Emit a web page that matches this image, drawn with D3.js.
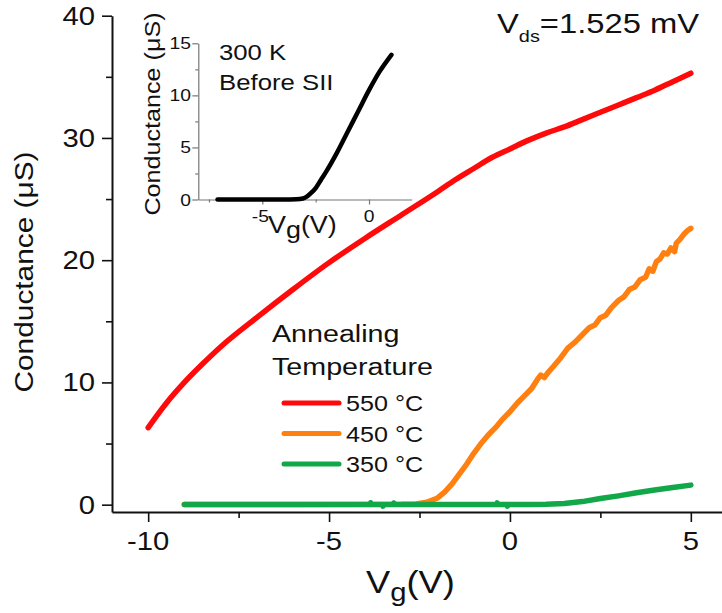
<!DOCTYPE html>
<html>
<head>
<meta charset="utf-8">
<script src="https://cdn.jsdelivr.net/npm/d3@7"></script>
<style>
  html, body { margin: 0; padding: 0; background: #fff; }
  svg { display: block; }
  text { font-family: "Liberation Sans", Arial, Helvetica, sans-serif; fill: #111; }
</style>
</head>
<body>
<svg id="chart" width="722" height="613"></svg>
<script>
// Gate-voltage sweeps (Vg in V, conductance in µS)
const vg550 = [-10, -9.5, -9, -8.5, -8, -7, -6, -5, -4, -3, -2, -1.5, -1, -0.5, 0, 0.5, 1, 1.5, 2, 2.5, 3, 3.5, 4, 4.5, 5];
const g550  = [6.3, 8.3, 10.0, 11.5, 12.9, 15.3, 17.6, 19.8, 21.8, 23.7, 25.6, 26.6, 27.5, 28.4, 29.1, 29.8, 30.4, 30.9, 31.5, 32.1, 32.7, 33.3, 33.9, 34.6, 35.3];

const vg450 = [-9, -6, -3, -2.6, -2.3, -2.0, -1.8, -1.6, -1.4, -1.2, -1.0, -0.8, -0.6, -0.4, -0.2, 0.0, 0.2, 0.4, 0.6, 0.75, 0.85, 0.95, 1.05, 1.2, 1.4, 1.6, 1.8, 2.0, 2.2, 2.35, 2.5, 2.65, 2.8, 3.0, 3.15, 3.3, 3.45, 3.6, 3.75, 3.85, 3.95, 4.05, 4.15, 4.25, 4.35, 4.45, 4.55, 4.6, 4.7, 4.8, 4.9, 5.0];
const g450  = [0.02, 0.02, 0.03, 0.06, 0.2, 0.55, 1.05, 1.7, 2.5, 3.3, 4.2, 5.0, 5.7, 6.3, 7.0, 7.6, 8.3, 8.9, 9.5, 10.2, 10.6, 10.4, 10.8, 11.3, 12.0, 12.8, 13.3, 13.9, 14.5, 14.7, 15.3, 15.5, 16.1, 16.7, 17.0, 17.6, 17.8, 18.4, 18.6, 19.3, 19.1, 19.9, 20.1, 20.6, 20.5, 21.0, 20.7, 21.4, 21.7, 22.1, 22.4, 22.6];

const vg350 = [-9, -6, -4.0, -3.86, -3.85, -3.84, -3.52, -3.51, -3.5, -3.22, -3.21, -3.2, -1.5, -0.36, -0.35, -0.34, -0.08, -0.07, -0.06, 0.5, 1.0, 1.5, 2.0, 2.5, 3.0, 3.5, 4.0, 4.5, 5.0];
const g350  = [0.02, 0.02, 0.02, 0.02, 0.16, 0.02, 0.02, -0.12, 0.02, 0.02, 0.14, 0.02, 0.02, 0.02, 0.15, 0.02, 0.02, -0.12, 0.02, 0.02, 0.03, 0.1, 0.25, 0.5, 0.72, 0.97, 1.2, 1.4, 1.6];

// Inset: 300 K sweep before SII
const vgInset = [-7.1, -5, -4, -3.4, -3.1, -2.9, -2.7, -2.5, -2.25, -2.0, -1.5, -1.0, -0.5, 0, 0.5, 1.05];
const gInset  = [0, 0, 0, 0.02, 0.1, 0.3, 0.65, 1.1, 1.9, 2.7, 4.5, 6.5, 8.5, 10.5, 12.3, 13.9];

const xTicks = [-10, -5, 0, 5];
const xMinor = [-7.5, -2.5, 2.5];
const yTicks = [0, 10, 20, 30, 40];
const yMinor = [5, 15, 25, 35];
const insetXTicks = [-5, 0];
const insetXMinor = [-7.5, -2.5];
const insetYTicks = [0, 5, 10, 15];
const insetYMinor = [2.5, 7.5, 12.5];

const legendLabels = ["550 °C", "450 °C", "350 °C"];
const colors = ["#ff0a0a", "#ff8010", "#12a84a"];

const S = 1.17; // horizontal glyph stretch
const svg = d3.select("#chart");

function txt(parent, x, y, size, anchor, rot) {
  const g = parent.append("g")
    .attr("transform", `translate(${x},${y}) rotate(${rot || 0}) scale(${S},1)`);
  return g.append("text").attr("font-size", size).attr("text-anchor", anchor || "start");
}

// ---- main axes ----
const x = d3.scaleLinear().domain([-11, 6]).range([112, 727]);
const y = d3.scaleLinear().domain([-0.6, 40]).range([512, 15.7]);

svg.append("g").attr("transform", `translate(0,${y(-0.6)})`)
  .call(d3.axisBottom(x).tickValues(xTicks).tickSize(10).tickSizeOuter(0).tickFormat(""));
svg.append("g").attr("transform", `translate(0,${y(-0.6)})`)
  .call(d3.axisBottom(x).tickValues(xMinor).tickSize(6).tickSizeOuter(0).tickFormat(""))
  .select(".domain").remove();
svg.append("g").attr("transform", `translate(${x(-11)},0)`)
  .call(d3.axisLeft(y).tickValues(yTicks).tickSize(10).tickSizeOuter(0).tickFormat(""));
svg.append("g").attr("transform", `translate(${x(-11)},0)`)
  .call(d3.axisLeft(y).tickValues(yMinor).tickSize(6).tickSizeOuter(0).tickFormat(""))
  .select(".domain").remove();
svg.selectAll(".domain").attr("stroke", "#111").attr("stroke-width", 2);
svg.selectAll(".tick line").attr("stroke", "#111").attr("stroke-width", 1.6);

xTicks.forEach(v => txt(svg, x(v), 550, 25, "middle").text(v < 0 ? "-" + Math.abs(v) : v));
yTicks.forEach(v => txt(svg, 95, y(v) + 9, 25, "end").text(v));

// axis titles
const xt = txt(svg, 366, 593, 31, "start");
xt.append("tspan").text("V");
xt.append("tspan").attr("font-size", 25).attr("dy", 8).text("g");
xt.append("tspan").attr("dy", -8).text("(V)");

txt(svg, 33, 272, 25.5, "middle", -90).text("Conductance (\u03bcS)");

// bias annotation
const vds = txt(svg, 497, 33, 28, "start");
vds.append("tspan").text("V");
vds.append("tspan").attr("font-size", 17).attr("dy", 9).text("ds");
vds.append("tspan").attr("dy", -9).text("=1.525 mV");

// ---- main curves ----
const smooth = d3.line().x(d => x(d[0])).y(d => y(d[1])).curve(d3.curveMonotoneX);
const raw = d3.line().x(d => x(d[0])).y(d => y(d[1]));
const series = [
  { pts: d3.zip(vg550, g550), gen: smooth },
  { pts: d3.zip(vg450, g450), gen: raw },
  { pts: d3.zip(vg350, g350), gen: raw }
];
series.forEach((s, i) => {
  svg.append("path").datum(s.pts).attr("d", s.gen)
    .attr("fill", "none").attr("stroke", colors[i])
    .attr("stroke-width", 5.5).attr("stroke-linejoin", "round").attr("stroke-linecap", "round");
});

// ---- legend ----
txt(svg, 272, 342, 24.5, "start").text("Annealing");
txt(svg, 272, 375, 24.5, "start").text("Temperature");
const legY = d3.scalePoint().domain(legendLabels).range([403, 464]);
legendLabels.forEach((lab, i) => {
  svg.append("line").attr("x1", 284).attr("x2", 339)
    .attr("y1", legY(lab)).attr("y2", legY(lab))
    .attr("stroke", colors[i]).attr("stroke-width", 5).attr("stroke-linecap", "round");
  txt(svg, 346, legY(lab) + 8, 21.5, "start").text(lab);
});

// ---- inset ----
const xi = d3.scaleLinear().domain([-8, 2]).range([198.3, 411.7]);
const yi = d3.scaleLinear().domain([0, 15]).range([199.5, 43.3]);
const inset = svg.append("g");
inset.append("g").attr("transform", `translate(0,${yi(0)})`)
  .call(d3.axisBottom(xi).tickValues(insetXTicks).tickSize(5).tickSizeOuter(0).tickFormat(""));
inset.append("g").attr("transform", `translate(0,${yi(0)})`)
  .call(d3.axisBottom(xi).tickValues(insetXMinor).tickSize(3).tickSizeOuter(0).tickFormat(""))
  .select(".domain").remove();
inset.append("g").attr("transform", `translate(${xi(-8)},0)`)
  .call(d3.axisLeft(yi).tickValues(insetYTicks).tickSize(6).tickSizeOuter(0).tickFormat(""));
inset.append("g").attr("transform", `translate(${xi(-8)},0)`)
  .call(d3.axisLeft(yi).tickValues(insetYMinor).tickSize(3).tickSizeOuter(0).tickFormat(""))
  .select(".domain").remove();
inset.selectAll(".domain").attr("stroke", "#777").attr("stroke-width", 1.2);
inset.selectAll(".tick line").attr("stroke", "#777").attr("stroke-width", 1.2);

insetYTicks.forEach(v => txt(inset, 191, yi(v) + 6, 16.5, "end").text(v));
insetXTicks.forEach(v => txt(inset, xi(v) - (v < 0 ? 2 : 0), 222, 16.5, "middle").text(v < 0 ? "-" + Math.abs(v) : v));

const ixt = txt(inset, 268, 233, 23, "start");
ixt.append("tspan").text("V");
ixt.append("tspan").attr("dy", 5).text("g");
ixt.append("tspan").attr("dy", -5).text("(V)");

txt(inset, 160, 114, 21.5, "middle", -90).text("Conductance (\u03bcS)");
txt(inset, 219, 60, 22, "start").text("300 K");
txt(inset, 219, 90, 22, "start").text("Before SII");

const lineI = d3.line().x(d => xi(d[0])).y(d => yi(d[1])).curve(d3.curveMonotoneX);
inset.append("path").datum(d3.zip(vgInset, gInset)).attr("d", lineI)
  .attr("fill", "none").attr("stroke", "#000").attr("stroke-width", 4.5)
  .attr("stroke-linecap", "round").attr("stroke-linejoin", "round");
</script>
</body>
</html>
